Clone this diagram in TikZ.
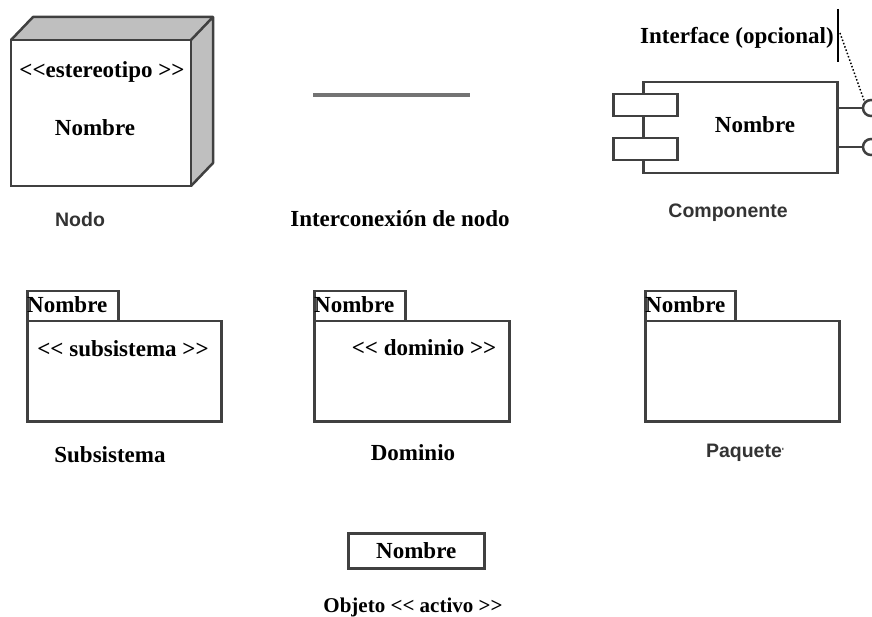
\documentclass[tikz,border=0pt]{standalone}
\usepackage{fontspec}
\setmainfont{Liberation Serif}
\newfontfamily\labelfont{Liberation Sans}
% double angle brackets kept as two characters
\newcommand{\dlt}{<{}<}
\newcommand{\dgt}{>{}>}
\begin{document}
\begin{tikzpicture}[x=1pt,y=-1pt,
  edge/.style={draw=black!75, line width=2.5pt},
  serif/.style={font=\fontsize{23}{26}\selectfont\bfseries, text=black, inner sep=0pt},
  caption/.style={font=\labelfont\fontsize{19.5}{22}\selectfont\bfseries, text=black!80, inner sep=0pt},
  box/.style={edge, fill=white, inner sep=0pt, anchor=north west}]
\useasboundingbox (0,0) rectangle (872,617);

% --- Nodo: a 3D box
\fill[gray!50] (11,40) -- (33,17) -- (213,17) -- (191,40) -- cycle;
\fill[gray!50] (191,40) -- (213,17) -- (213,163) -- (191,186) -- cycle;
\draw[edge, line join=round] (11,40) -- (33,17) -- (213,17) -- (213,163) -- (191,186)
  (191,40) -- (213,17);
\draw[edge] (11,40) rectangle (191,186);
\node[serif] (nodoster) at (102,72) {\dlt estereotipo \dgt};
\node[serif] (nodonom) at (95,128) {Nombre};
\node[caption] (nodocap) at (80,220) {Nodo};

% --- Interconexion de nodo
\coordinate (linkA) at (313,95);
\coordinate (linkB) at (470,95);
\draw[draw=black!55, line width=3.4pt] (linkA) -- (linkB);
\node[serif] (linkcap) at (400,219) {Interconexión de nodo};

% --- Componente with interfaces
\node[box, minimum width=194pt, minimum height=91pt] (comp) at (642,81) {};
\node[box, minimum width=64pt, minimum height=22pt] (tabA) at (612,93) {};
\node[box, minimum width=64pt, minimum height=22pt] (tabB) at (612,137) {};
\node[serif] (compnom) at (755,125) {Nombre};
\node[circle, edge, fill=white, minimum size=16pt, inner sep=0pt] (lol1) at (871,108) {};
\node[circle, edge, fill=white, minimum size=16pt, inner sep=0pt] (lol2) at (871,147) {};
\draw[edge] (comp.east |- lol1) -- (lol1.west);
\draw[edge] (comp.east |- lol2) -- (lol2.west);
\coordinate (bartop) at (838,9);
\coordinate (barbot) at (838,62);
\draw[black, line width=1.8pt] (bartop) -- (barbot);
\coordinate (ifc) at (840,33);
\draw[black, line width=1.5pt, dotted] (ifc) -- (lol1.north west);
\node[serif] (ifclab) at (737,38) {Interface (opcional)};
\node[caption] (compcap) at (728,213) {Componente};

% --- Subsistema package
\node[box, minimum width=91pt, minimum height=30pt] (subtab) at (26,290) {};
\node[box, minimum width=194pt, minimum height=100pt] (subbody) at (26,320) {};
\node[serif, anchor=west] (subnom) at (27,305) {Nombre};
\node[serif] (subster) at (123,349) {\dlt{} subsistema \dgt};
\node[serif] (subcap) at (110,455) {Subsistema};

% --- Dominio package
\node[box, minimum width=91pt, minimum height=30pt] (domtab) at (313,290) {};
\node[box, minimum width=195pt, minimum height=100pt] (dombody) at (313,320) {};
\node[serif, anchor=west] (domnom) at (314,305) {Nombre};
\node[serif] (domster) at (424,348) {\dlt{} dominio \dgt};
\node[serif] (domcap) at (413,453) {Dominio};

% --- Paquete
\node[box, minimum width=90pt, minimum height=30pt] (pkgtab) at (644,290) {};
\node[box, minimum width=194pt, minimum height=100pt] (pkgbody) at (644,320) {};
\node[serif, anchor=west] (pkgnom) at (645,305) {Nombre};
\node[caption] (pkgcap) at (745,453) {Paquete{\fontsize{9}{9}\selectfont\raisebox{3pt}{'}}};

% --- Objeto activo
\node[box, minimum width=136pt, minimum height=35pt] (obj) at (347,532) {};
\node[serif] (objnom) at (obj.center) {Nombre};
\node[serif, font=\fontsize{21}{24}\selectfont\bfseries] (objcap) at (413,607) {Objeto \dlt{} activo \dgt};
\end{tikzpicture}
\end{document}
